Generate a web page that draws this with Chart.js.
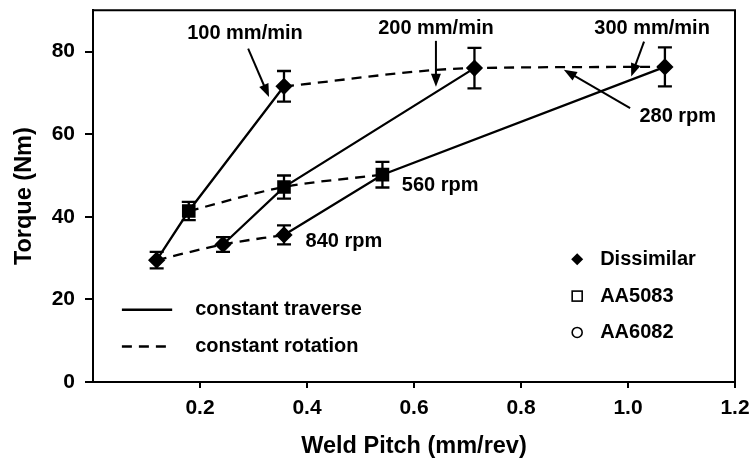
<!DOCTYPE html>
<html>
<head>
<meta charset="utf-8">
<script src="https://cdn.jsdelivr.net/npm/chart.js@4/dist/chart.umd.min.js"></script>
<style>
  html, body { margin: 0; padding: 0; background: #fff; }
  #wrap { width: 752px; height: 461px; }
</style>
</head>
<body>
<div id="wrap"><canvas id="torqueChart" width="752" height="461"></canvas></div>
<script>
// Giá trị: bước hàn (mm/vòng) và mô-men xoắn (Nm) cho từng tốc độ tiến
const traverseLabels = ['100 mm/min', '200 mm/min', '300 mm/min'];
const rotationLabels = ['840 rpm', '560 rpm', '280 rpm'];

const pitch100 = [0.119, 0.179, 0.357];
const torque100 = [29.5, 41.4, 71.6];
const err100 = [2.0, 2.2, 3.7];

const pitch200 = [0.243, 0.357, 0.713];
const torque200 = [33.3, 47.2, 76.0];
const err200 = [1.8, 2.8, 4.9];

const pitch300 = [0.357, 0.541, 1.069];
const torque300 = [35.6, 50.2, 76.3];
const err300 = [2.3, 3.1, 4.7];

const xTicks = [0.2, 0.4, 0.6, 0.8, 1.0, 1.2];
const yTicks = [0, 20, 40, 60, 80];

const FONT = "'Liberation Sans', Arial, Helvetica, sans-serif";
Chart.defaults.font.family = FONT;
Chart.defaults.color = '#000';

const pitches = [pitch100, pitch200, pitch300];
const torques = [torque100, torque200, torque300];
const errors = [err100, err200, err300];

const toPoints = (xs, ys) => xs.map((v, i) => ({ x: v, y: ys[i] }));

// Đường liền: tốc độ tiến không đổi
const traverseSets = traverseLabels.map((lab, k) => ({
    label: lab,
    data: toPoints(pitches[k], torques[k]),
    showLine: true,
    borderColor: '#000',
    borderWidth: 2.3,
    pointRadius: 0,
    tension: 0
}));

// Đường nét đứt: tốc độ quay không đổi (điểm thứ i của mỗi dãy tốc độ tiến)
const rotationSets = rotationLabels.map((lab, i) => ({
    label: lab,
    data: pitches.map((p, k) => ({ x: p[i], y: torques[k][i] })),
    showLine: true,
    borderColor: '#000',
    borderWidth: 2.3,
    borderDash: [10, 7],
    cubicInterpolationMode: 'monotone',
    pointStyle: i === 1 ? 'rect' : 'rectRot',
    pointRadius: i === 1 ? 8 : 7,
    pointBackgroundColor: '#000',
    pointBorderColor: '#000'
}));

// Chú thích (vị trí theo đơn vị dữ liệu)
const notes = [
    { text: '100 mm/min', x: 0.284, y: 84.3, from: [0.290, 80.7], to: [0.329, 69.0] },
    { text: '200 mm/min', x: 0.641, y: 85.5, from: [0.641, 82.6], to: [0.641, 71.5] },
    { text: '300 mm/min', x: 1.045, y: 85.5, from: [1.030, 82.4], to: [1.006, 74.0] },
    { text: '280 rpm', x: 1.093, y: 64.4, from: [1.004, 66.3], to: [0.880, 75.6] },
    { text: '560 rpm', x: 0.649, y: 47.7 },
    { text: '840 rpm', x: 0.469, y: 34.0 }
];

function arrow(ctx, x1, y1, x2, y2) {
    const ang = Math.atan2(y2 - y1, x2 - x1);
    const len = 13, w = 5;
    ctx.beginPath();
    ctx.moveTo(x1, y1);
    ctx.lineTo(x2 - Math.cos(ang) * len * 0.8, y2 - Math.sin(ang) * len * 0.8);
    ctx.stroke();
    ctx.beginPath();
    ctx.moveTo(x2, y2);
    ctx.lineTo(x2 - Math.cos(ang) * len + Math.sin(ang) * w, y2 - Math.sin(ang) * len - Math.cos(ang) * w);
    ctx.lineTo(x2 - Math.cos(ang) * len - Math.sin(ang) * w, y2 - Math.sin(ang) * len + Math.cos(ang) * w);
    ctx.closePath();
    ctx.fill();
}

const overlay = {
    id: 'overlay',
    beforeDatasetsDraw(chart) {
        const { ctx, scales: { x, y } } = chart;
        ctx.save();
        ctx.strokeStyle = '#000';
        ctx.lineWidth = 2.3;
        // Thanh sai số
        pitches.forEach((p, k) => {
            p.forEach((px, i) => {
                const cx = x.getPixelForValue(px);
                const top = y.getPixelForValue(torques[k][i] + errors[k][i]);
                const bot = y.getPixelForValue(torques[k][i] - errors[k][i]);
                ctx.beginPath();
                ctx.moveTo(cx, top); ctx.lineTo(cx, bot);
                ctx.moveTo(cx - 7, top); ctx.lineTo(cx + 7, top);
                ctx.moveTo(cx - 7, bot); ctx.lineTo(cx + 7, bot);
                ctx.stroke();
            });
        });
        ctx.restore();
    },
    afterDatasetsDraw(chart) {
        const { ctx, scales: { x, y }, chartArea: a } = chart;
        ctx.save();
        ctx.strokeStyle = '#000';
        ctx.fillStyle = '#000';
        // khung trên và phải
        ctx.lineWidth = 2;
        ctx.beginPath();
        ctx.moveTo(a.left, a.top); ctx.lineTo(a.right, a.top); ctx.lineTo(a.right, a.bottom);
        ctx.stroke();

        ctx.font = 'bold 20px ' + FONT;
        ctx.textBaseline = 'middle';
        ctx.lineWidth = 2;
        notes.forEach(n => {
            ctx.textAlign = 'center';
            ctx.fillText(n.text, x.getPixelForValue(n.x), y.getPixelForValue(n.y));
            if (n.from) {
                arrow(ctx, x.getPixelForValue(n.from[0]), y.getPixelForValue(n.from[1]),
                    x.getPixelForValue(n.to[0]), y.getPixelForValue(n.to[1]));
            }
        });

        // Chú giải kiểu đường
        ctx.textAlign = 'left';
        ctx.lineWidth = 2.3;
        const lx0 = x.getPixelForValue(0.054), lx1 = x.getPixelForValue(0.148);
        const ly1 = y.getPixelForValue(17.5), ly2 = y.getPixelForValue(8.6);
        ctx.beginPath(); ctx.moveTo(lx0, ly1); ctx.lineTo(lx1, ly1); ctx.stroke();
        ctx.setLineDash([10, 7]);
        ctx.beginPath(); ctx.moveTo(lx0, ly2); ctx.lineTo(lx1, ly2); ctx.stroke();
        ctx.setLineDash([]);
        const tx = x.getPixelForValue(0.191);
        ctx.fillText('constant traverse', tx, ly1);
        ctx.fillText('constant rotation', tx, ly2);

        // Chú giải vật liệu
        const mx = x.getPixelForValue(0.905), mtx = x.getPixelForValue(0.948);
        const my = [29.7, 20.8, 12.0].map(v => y.getPixelForValue(v));
        ctx.beginPath();
        ctx.moveTo(mx, my[0] - 6); ctx.lineTo(mx + 6, my[0]); ctx.lineTo(mx, my[0] + 6); ctx.lineTo(mx - 6, my[0]);
        ctx.closePath(); ctx.fill();
        ctx.lineWidth = 1.6;
        ctx.strokeRect(mx - 5, my[1] - 5, 10, 10);
        ctx.beginPath(); ctx.arc(mx, my[2], 5, 0, Math.PI * 2); ctx.stroke();
        ctx.fillText('Dissimilar', mtx, my[0]);
        ctx.fillText('AA5083', mtx, my[1]);
        ctx.fillText('AA6082', mtx, my[2]);
        ctx.restore();
    }
};

new Chart(document.getElementById('torqueChart'), {
    type: 'scatter',
    data: { datasets: [...traverseSets, ...rotationSets] },
    options: {
        responsive: false,
        animation: false,
        layout: { padding: { top: 7, right: 17, left: 0, bottom: 0 } },
        plugins: { legend: { display: false }, tooltip: { enabled: false } },
        scales: {
            x: {
                min: 0,
                max: 1.2,
                afterBuildTicks: s => { s.ticks = xTicks.map(v => ({ value: v })); },
                afterFit: s => { s.height = 79; s.paddingLeft = 0; s.paddingRight = 0; },
                ticks: {
                    font: { size: 21, weight: 'bold' },
                    padding: 8,
                    callback: v => v.toFixed(1)
                },
                grid: { drawOnChartArea: false, drawTicks: true, tickLength: 6, color: '#000', lineWidth: 2 },
                border: { display: true, color: '#000', width: 2 },
                title: { display: true, text: 'Weld Pitch (mm/rev)', font: { size: 23.5, weight: 'bold' }, padding: { top: 6, bottom: 0 } }
            },
            y: {
                min: 0,
                max: 90,
                afterBuildTicks: s => { s.ticks = yTicks.map(v => ({ value: v })); },
                afterFit: s => { s.width = 93; s.paddingTop = 0; s.paddingBottom = 0; },
                ticks: {
                    font: { size: 21, weight: 'bold' },
                    padding: 10
                },
                grid: { drawOnChartArea: false, drawTicks: true, tickLength: 8, color: '#000', lineWidth: 2 },
                border: { display: true, color: '#000', width: 2 },
                title: { display: true, text: 'Torque (Nm)', font: { size: 23.5, weight: 'bold' }, padding: { top: 10, bottom: 0 } }
            }
        }
    },
    plugins: [overlay]
});
</script>
</body>
</html>
